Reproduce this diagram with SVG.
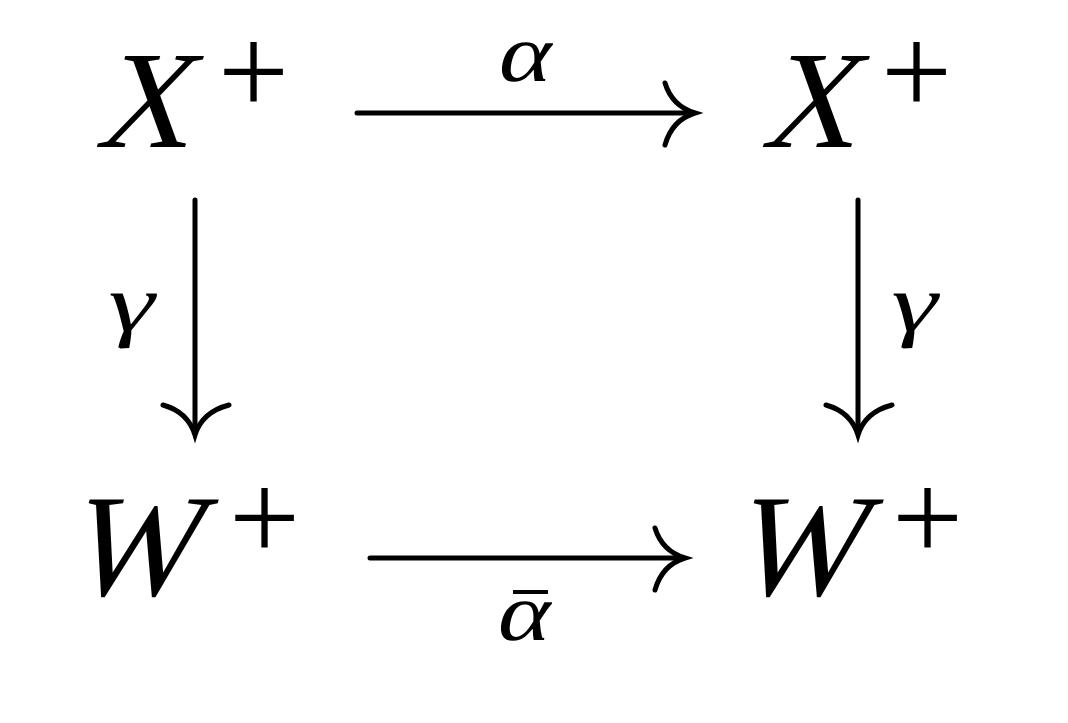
<svg xmlns="http://www.w3.org/2000/svg" width="1068" height="723" viewBox="0 0 1068 723">
<style>
text{font-family:"Liberation Serif","Times New Roman",serif;fill:#000}
.x{font-size:139px}
.w{font-size:146px}
.p{font-size:126px}
.g{font-size:82px}
.e{stroke:#000;stroke-width:5;fill:none;stroke-linecap:round}
</style>
<rect width="1068" height="723" fill="#fff"/>
<g id="n1"><text class="x" transform="translate(94,147) skewX(-15) scale(0.93,1)">X</text><text class="p" x="218" y="114">+</text></g>
<g id="n2"><text class="x" transform="translate(760,147) skewX(-15) scale(0.93,1)">X</text><text class="p" x="881" y="114">+</text></g>
<g id="n3"><text class="w" transform="translate(64,595) skewX(-15) scale(0.94,1)">W</text><text class="p" x="229" y="560">+</text></g>
<g id="n4"><text class="w" transform="translate(729,595) skewX(-15) scale(0.94,1)">W</text><text class="p" x="892" y="560">+</text></g>
<g id="edges">
<path class="e" d="M357 113H693"/><path class="e" d="M665 83Q672 106 695 113Q672 120 665 145"/>
<path class="e" d="M195 200V433"/><path class="e" d="M163 405Q188 412 195 435Q202 412 229 405"/>
<path class="e" d="M858 200V433"/><path class="e" d="M826 405Q851 412 858 435Q865 412 892 405"/>
<path class="e" d="M370 558H683"/><path class="e" d="M655 528Q662 551 685 558Q662 565 655 590"/>
</g>
<g id="labels">
<text class="g" transform="translate(495,81) skewX(-12) scale(1.22,1)">α</text>
<text class="g" transform="translate(103,331) skewX(-12) scale(1.35,1)">γ</text>
<text class="g" transform="translate(886,331) skewX(-12) scale(1.35,1)">γ</text>
<text class="g" transform="translate(494,640) skewX(-12) scale(1.22,1)">α</text>
<path d="M513 592H548" stroke="#000" stroke-width="4"/>
</g>
</svg>
